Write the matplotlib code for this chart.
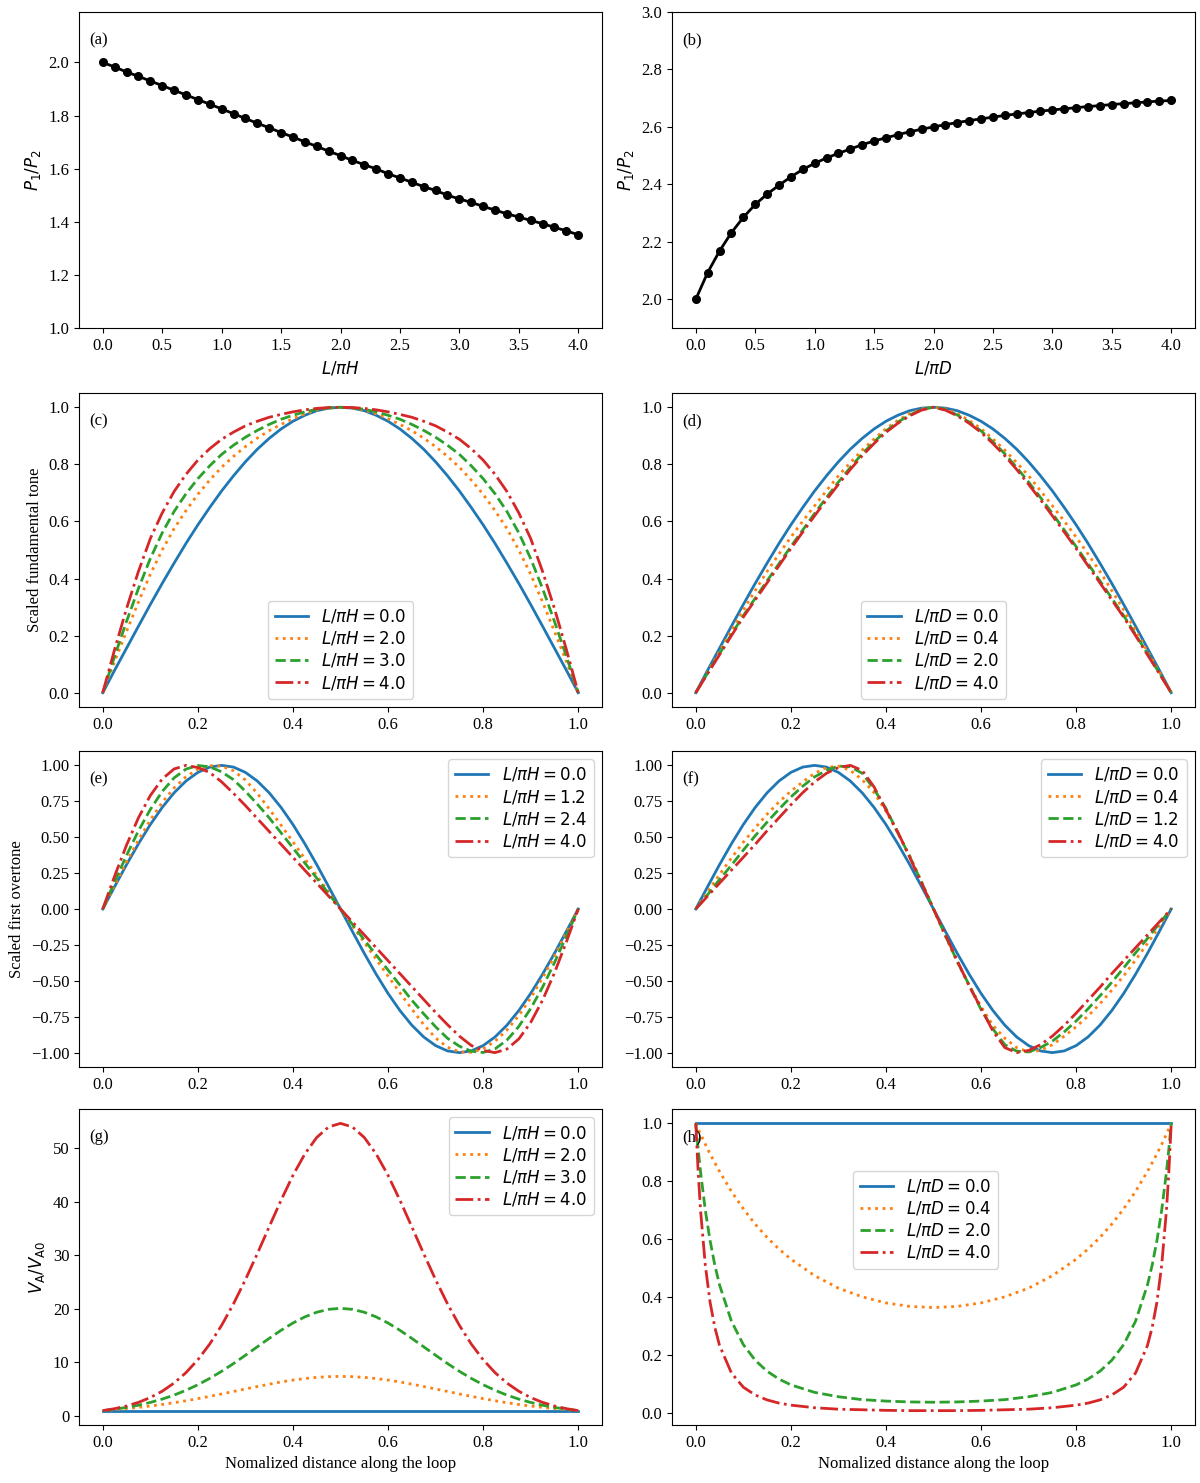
import matplotlib
matplotlib.use("Agg")
import matplotlib.pyplot as plt

plt.rcParams['font.family'] = ['Liberation Serif', 'DejaVu Serif']
plt.rcParams['font.size'] = 12
plt.rcParams['mathtext.fontset'] = 'dejavusans'

# period ratio vs stratification parameter
ratio_x = [0.0, 0.1, 0.2, 0.3, 0.4, 0.5, 0.6, 0.7, 0.8, 0.9, 1.0, 1.1, 1.2, 1.3, 1.4,
           1.5, 1.6, 1.7, 1.8, 1.9, 2.0, 2.1, 2.2, 2.3, 2.4, 2.5, 2.6, 2.7, 2.8, 2.9,
           3.0, 3.1, 3.2, 3.3, 3.4, 3.5, 3.6, 3.7, 3.8, 3.9, 4.0]
ratio_H = [2.000, 1.983, 1.964, 1.948, 1.930, 1.913, 1.895, 1.878, 1.860, 1.843, 1.825,
           1.807, 1.789, 1.771, 1.754, 1.736, 1.719, 1.701, 1.684, 1.666, 1.649, 1.631,
           1.615, 1.599, 1.581, 1.565, 1.549, 1.532, 1.518, 1.500, 1.486, 1.473, 1.458,
           1.444, 1.430, 1.418, 1.405, 1.393, 1.379, 1.366, 1.351]
ratio_D = [2.000, 2.093, 2.168, 2.232, 2.285, 2.330, 2.366, 2.397, 2.426, 2.452, 2.473,
           2.492, 2.508, 2.523, 2.538, 2.551, 2.562, 2.573, 2.583, 2.592, 2.600, 2.608,
           2.615, 2.622, 2.628, 2.634, 2.640, 2.645, 2.650, 2.655, 2.659, 2.663, 2.667,
           2.671, 2.674, 2.678, 2.681, 2.684, 2.687, 2.690, 2.692]

# normalised distance along the loop
s41 = [0.0, 0.025, 0.05, 0.075, 0.1, 0.125, 0.15, 0.175, 0.2, 0.225, 0.25, 0.275, 0.3,
       0.325, 0.35, 0.375, 0.4, 0.425, 0.45, 0.475, 0.5, 0.525, 0.55, 0.575, 0.6, 0.625,
       0.65, 0.675, 0.7, 0.725, 0.75, 0.775, 0.8, 0.825, 0.85, 0.875, 0.9, 0.925, 0.95,
       0.975, 1.0]
s_h = [0.0, 0.005, 0.01, 0.02, 0.03, 0.04, 0.05, 0.075, 0.1, 0.125, 0.15, 0.175, 0.2,
       0.25, 0.3, 0.35, 0.4, 0.45, 0.5, 0.55, 0.6, 0.65, 0.7, 0.75, 0.8, 0.825, 0.85,
       0.875, 0.9, 0.925, 0.95, 0.96, 0.97, 0.98, 0.99, 0.995, 1.0]

# (c) fundamental, density stratification
c_labels = ["0.0", "2.0", "3.0", "4.0"]
c_0 = [0.0, 0.079, 0.156, 0.233, 0.309, 0.383, 0.454, 0.523, 0.588, 0.649, 0.707, 0.76,
       0.809, 0.853, 0.891, 0.924, 0.951, 0.972, 0.988, 0.997, 1.0, 0.997, 0.988, 0.972,
       0.951, 0.924, 0.891, 0.853, 0.809, 0.76, 0.707, 0.649, 0.588, 0.523, 0.454, 0.383,
       0.309, 0.233, 0.156, 0.079, 0.0]
c_1 = [0.0, 0.11, 0.215, 0.318, 0.415, 0.5, 0.575, 0.638, 0.695, 0.745, 0.79, 0.828,
       0.862, 0.892, 0.918, 0.94, 0.96, 0.977, 0.99, 0.997, 1.0, 0.997, 0.99, 0.977, 0.96,
       0.94, 0.918, 0.892, 0.862, 0.828, 0.79, 0.745, 0.695, 0.638, 0.575, 0.5, 0.415,
       0.318, 0.215, 0.11, 0.0]
c_2 = [0.0, 0.128, 0.25, 0.365, 0.47, 0.56, 0.635, 0.697, 0.75, 0.795, 0.835, 0.867,
       0.895, 0.919, 0.94, 0.958, 0.972, 0.984, 0.993, 0.998, 1.0, 0.998, 0.993, 0.984,
       0.972, 0.958, 0.94, 0.919, 0.895, 0.867, 0.835, 0.795, 0.75, 0.697, 0.635, 0.56,
       0.47, 0.365, 0.25, 0.128, 0.0]
c_3 = [0.0, 0.152, 0.295, 0.425, 0.54, 0.63, 0.705, 0.765, 0.815, 0.855, 0.888, 0.913,
       0.935, 0.951, 0.965, 0.975, 0.984, 0.991, 0.996, 0.999, 1.0, 0.999, 0.996, 0.991,
       0.984, 0.975, 0.965, 0.951, 0.935, 0.913, 0.888, 0.855, 0.815, 0.765, 0.705, 0.63,
       0.54, 0.425, 0.295, 0.152, 0.0]

# (d) fundamental, magnetic stratification
d_labels = ["0.0", "0.4", "2.0", "4.0"]
d_0 = c_0
d_1 = [0.0, 0.073, 0.145, 0.218, 0.29, 0.358, 0.425, 0.486, 0.545, 0.601, 0.655, 0.708,
       0.76, 0.806, 0.85, 0.889, 0.925, 0.954, 0.978, 0.994, 1.0, 0.994, 0.978, 0.954,
       0.925, 0.889, 0.85, 0.806, 0.76, 0.708, 0.655, 0.601, 0.545, 0.486, 0.425, 0.358,
       0.29, 0.218, 0.145, 0.073, 0.0]
d_2 = [0.0, 0.069, 0.137, 0.204, 0.27, 0.331, 0.392, 0.452, 0.512, 0.57, 0.628, 0.684,
       0.738, 0.789, 0.837, 0.879, 0.917, 0.948, 0.973, 0.992, 1.0, 0.992, 0.973, 0.948,
       0.917, 0.879, 0.837, 0.789, 0.738, 0.684, 0.628, 0.57, 0.512, 0.452, 0.392, 0.331,
       0.27, 0.204, 0.137, 0.069, 0.0]
d_3 = [0.0, 0.067, 0.133, 0.2, 0.265, 0.325, 0.385, 0.445, 0.505, 0.563, 0.62, 0.676,
       0.73, 0.782, 0.83, 0.873, 0.912, 0.944, 0.97, 0.99, 1.0, 0.99, 0.97, 0.944, 0.912,
       0.873, 0.83, 0.782, 0.73, 0.676, 0.62, 0.563, 0.505, 0.445, 0.385, 0.325, 0.265,
       0.2, 0.133, 0.067, 0.0]

# (e) first overtone, density stratification
e_labels = ["0.0", "1.2", "2.4", "4.0"]
e_0 = [0.0, 0.156, 0.309, 0.454, 0.588, 0.707, 0.809, 0.891, 0.951, 0.988, 1.0, 0.988,
       0.951, 0.891, 0.809, 0.707, 0.588, 0.454, 0.309, 0.156, 0.0, -0.156, -0.309,
       -0.454, -0.588, -0.707, -0.809, -0.891, -0.951, -0.988, -1.0, -0.988, -0.951,
       -0.891, -0.809, -0.707, -0.588, -0.454, -0.309, -0.156, 0.0]
e_1 = [0.0, 0.166, 0.328, 0.48, 0.62, 0.742, 0.843, 0.921, 0.973, 0.998, 0.995, 0.962,
       0.898, 0.805, 0.697, 0.583, 0.467, 0.35, 0.233, 0.117, 0.0, -0.117, -0.233,
       -0.35, -0.467, -0.583, -0.697, -0.805, -0.898, -0.962, -0.995, -0.998, -0.973,
       -0.921, -0.843, -0.742, -0.62, -0.48, -0.328, -0.166, 0.0]
e_2 = [0.0, 0.19, 0.374, 0.544, 0.693, 0.818, 0.913, 0.974, 0.999, 0.99, 0.955, 0.9,
       0.82, 0.73, 0.635, 0.53, 0.425, 0.32, 0.215, 0.107, 0.0, -0.107, -0.215, -0.32,
       -0.425, -0.53, -0.635, -0.73, -0.82, -0.9, -0.955, -0.99, -0.999, -0.974,
       -0.913, -0.818, -0.693, -0.544, -0.374, -0.19, 0.0]
e_3 = [0.0, 0.23, 0.445, 0.635, 0.79, 0.905, 0.975, 1.0, 0.985, 0.95, 0.885, 0.805,
       0.72, 0.63, 0.54, 0.45, 0.36, 0.27, 0.18, 0.09, 0.0, -0.09, -0.18, -0.27, -0.36,
       -0.45, -0.54, -0.63, -0.72, -0.805, -0.885, -0.95, -0.985, -1.0, -0.975, -0.905,
       -0.79, -0.635, -0.445, -0.23, 0.0]

# (f) first overtone, magnetic stratification
f_labels = ["0.0", "0.4", "1.2", "4.0"]
f_0 = e_0
f_1 = [0.0, 0.12, 0.24, 0.355, 0.465, 0.565, 0.66, 0.745, 0.82, 0.885, 0.945, 0.985,
       0.995, 0.965, 0.9, 0.81, 0.68, 0.53, 0.37, 0.19, 0.0, -0.19, -0.37, -0.53, -0.68,
       -0.81, -0.9, -0.965, -0.995, -0.985, -0.945, -0.885, -0.82, -0.745, -0.66,
       -0.565, -0.465, -0.355, -0.24, -0.12, 0.0]
f_2 = [0.0, 0.1, 0.205, 0.305, 0.41, 0.51, 0.605, 0.695, 0.78, 0.855, 0.92, 0.965,
       0.995, 0.99, 0.945, 0.835, 0.7, 0.53, 0.365, 0.185, 0.0, -0.185, -0.365, -0.53,
       -0.7, -0.835, -0.945, -0.99, -0.995, -0.965, -0.92, -0.855, -0.78, -0.695,
       -0.605, -0.51, -0.41, -0.305, -0.205, -0.1, 0.0]
f_3 = [0.0, 0.09, 0.18, 0.27, 0.36, 0.45, 0.545, 0.635, 0.725, 0.81, 0.885, 0.945,
       0.985, 1.0, 0.965, 0.85, 0.69, 0.535, 0.36, 0.18, 0.0, -0.18, -0.36, -0.535,
       -0.69, -0.85, -0.965, -1.0, -0.985, -0.945, -0.885, -0.81, -0.725, -0.635,
       -0.545, -0.45, -0.36, -0.27, -0.18, -0.09, 0.0]

# (g) Alfven speed profile, density stratification
g_labels = ["0.0", "2.0", "3.0", "4.0"]
g_0 = [1.0, 1.0, 1.0, 1.0, 1.0, 1.0, 1.0, 1.0, 1.0, 1.0, 1.0, 1.0, 1.0, 1.0, 1.0, 1.0,
       1.0, 1.0, 1.0, 1.0, 1.0, 1.0, 1.0, 1.0, 1.0, 1.0, 1.0, 1.0, 1.0, 1.0, 1.0, 1.0,
       1.0, 1.0, 1.0, 1.0, 1.0, 1.0, 1.0, 1.0, 1.0]
g_1 = [1.0, 1.17, 1.37, 1.6, 1.86, 2.15, 2.48, 2.84, 3.24, 3.67, 4.11, 4.58, 5.04, 5.5,
       5.94, 6.35, 6.7, 6.99, 7.21, 7.34, 7.39, 7.34, 7.21, 6.99, 6.7, 6.35, 5.94, 5.5,
       5.04, 4.58, 4.11, 3.67, 3.24, 2.84, 2.48, 2.15, 1.86, 1.6, 1.37, 1.17, 1.0]
g_2 = [1.0, 1.27, 1.6, 2.01, 2.53, 3.15, 3.9, 4.8, 5.83, 7.02, 8.34, 9.79, 11.33, 12.91,
       14.48, 15.99, 17.35, 18.49, 19.36, 19.9, 20.09, 19.9, 19.36, 18.49, 17.35, 15.99,
       14.48, 12.91, 11.33, 9.79, 8.34, 7.02, 5.83, 4.8, 3.9, 3.15, 2.53, 2.01, 1.6,
       1.27, 1.0]
g_3 = [1.0, 1.37, 1.87, 2.54, 3.44, 4.62, 6.15, 8.09, 10.5, 13.43, 16.92, 20.94, 25.43,
       30.28, 35.3, 40.26, 44.9, 48.89, 51.97, 53.93, 54.6, 53.93, 51.97, 48.89, 44.9,
       40.26, 35.3, 30.28, 25.43, 20.94, 16.92, 13.43, 10.5, 8.09, 6.15, 4.62, 3.44,
       2.54, 1.87, 1.37, 1.0]

# (h) Alfven speed profile, magnetic stratification
h_labels = ["0.0", "0.4", "2.0", "4.0"]
h_0 = [1.0, 1.0, 1.0, 1.0, 1.0, 1.0, 1.0, 1.0, 1.0, 1.0, 1.0, 1.0, 1.0, 1.0, 1.0, 1.0,
       1.0, 1.0, 1.0, 1.0, 1.0, 1.0, 1.0, 1.0, 1.0, 1.0, 1.0, 1.0, 1.0, 1.0, 1.0, 1.0,
       1.0, 1.0, 1.0, 1.0, 1.0]
h_1 = [1.0, 0.981, 0.963, 0.928, 0.895, 0.864, 0.834, 0.765, 0.705, 0.652, 0.606, 0.566,
       0.531, 0.474, 0.431, 0.401, 0.38, 0.368, 0.364, 0.368, 0.38, 0.401, 0.431, 0.474,
       0.531, 0.566, 0.606, 0.652, 0.705, 0.765, 0.834, 0.864, 0.895, 0.928, 0.963,
       0.981, 1.0]
h_2 = [1.0, 0.911, 0.833, 0.701, 0.596, 0.511, 0.442, 0.317, 0.236, 0.182, 0.144, 0.117,
       0.097, 0.071, 0.056, 0.046, 0.041, 0.038, 0.037, 0.038, 0.041, 0.046, 0.056, 0.071,
       0.097, 0.117, 0.144, 0.182, 0.236, 0.317, 0.442, 0.511, 0.596, 0.701, 0.833,
       0.911, 1.0]
h_3 = [1.0, 0.833, 0.701, 0.511, 0.383, 0.296, 0.233, 0.138, 0.089, 0.062, 0.045, 0.034,
       0.027, 0.018, 0.013, 0.011, 0.009, 0.008, 0.008, 0.008, 0.009, 0.011, 0.013, 0.018,
       0.027, 0.034, 0.045, 0.062, 0.089, 0.138, 0.233, 0.296, 0.383, 0.511, 0.701,
       0.833, 1.0]

colors = ["tab:blue", "tab:orange", "tab:green", "tab:red"]
styles = ["-", ":", "--", "-."]

fig = plt.figure(figsize=(12, 14.83), dpi=100)
W, H = 1200.0, 1483.0


def make_ax(left, top, right, bottom):
    return fig.add_axes([left / W, 1 - bottom / H, (right - left) / W, (bottom - top) / H])


cols = [(79, 602), (672, 1195)]
rows = [(12, 328), (393, 707), (751, 1067), (1109, 1425)]
axes = [[make_ax(c[0], r[0], c[1], r[1]) for c in cols] for r in rows]


def panel_tag(ax, tag):
    ax.text(0.02, 0.91, tag, transform=ax.transAxes, ha='left', va='center')


def mode_panel(ax, s, curves, labels, sym, loc, **kw):
    for y, lab, col, ls in zip(curves, labels, colors, styles):
        ax.plot(s, y, color=col, linestyle=ls, lw=2,
                label=r"$L/\pi " + sym + " = " + lab + "$")
    ax.legend(loc=loc, labelspacing=0.25, **kw)


# row 1
ax = axes[0][0]
ax.plot(ratio_x, ratio_H, 'ko-', ms=5.5, lw=2)
ax.set_ylim(1.0, 2.19)
ax.set_xlabel(r"$L/\pi H$")
ax.set_ylabel(r"$P_1/P_2$")
panel_tag(ax, "(a)")

ax = axes[0][1]
ax.plot(ratio_x, ratio_D, 'ko-', ms=5.5, lw=2)
ax.set_ylim(1.9, 3.0)
ax.set_xlabel(r"$L/\pi D$")
ax.set_ylabel(r"$P_1/P_2$")
panel_tag(ax, "(b)")

# row 2
mode_panel(axes[1][0], s41, [c_0, c_1, c_2, c_3], c_labels, "H", "lower center")
axes[1][0].set_ylabel("Scaled fundamental tone")
panel_tag(axes[1][0], "(c)")
mode_panel(axes[1][1], s41, [d_0, d_1, d_2, d_3], d_labels, "D", "lower center")
panel_tag(axes[1][1], "(d)")

# row 3
mode_panel(axes[2][0], s41, [e_0, e_1, e_2, e_3], e_labels, "H", "upper right")
axes[2][0].set_ylabel("Scaled first overtone")
panel_tag(axes[2][0], "(e)")
mode_panel(axes[2][1], s41, [f_0, f_1, f_2, f_3], f_labels, "D", "upper right")
panel_tag(axes[2][1], "(f)")

# row 4
mode_panel(axes[3][0], s41, [g_0, g_1, g_2, g_3], g_labels, "H", "upper right")
axes[3][0].set_ylabel(r"$V_\mathrm{A}/V_\mathrm{A0}$")
axes[3][0].set_xlabel("Nomalized distance along the loop")
panel_tag(axes[3][0], "(g)")
mode_panel(axes[3][1], s_h, [h_0, h_1, h_2, h_3], h_labels, "D", "center",
           bbox_to_anchor=(0.485, 0.65))
axes[3][1].set_xlabel("Nomalized distance along the loop")
panel_tag(axes[3][1], "(h)")

for r in (1, 2, 3):
    for a in axes[r]:
        a.set_xticks([0.0, 0.2, 0.4, 0.6, 0.8, 1.0])

fig.savefig("out.png", dpi=100)
